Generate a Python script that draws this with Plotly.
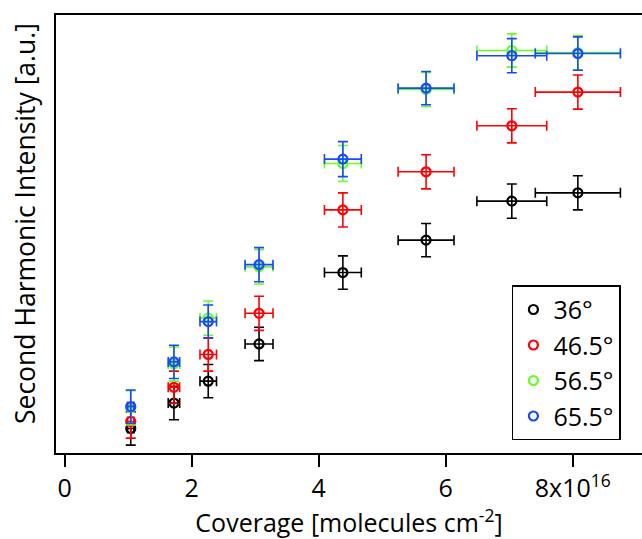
import plotly.graph_objects as go

coverage = [1.04, 1.72, 2.26, 3.06, 4.38, 5.69, 7.04, 8.08]
coverage_err = [0.05, 0.09, 0.13, 0.22, 0.29, 0.44, 0.55, 0.67]

labels = ["36°", "46.5°", "56.5°", "65.5°"]
colors = ["#000000", "#ff0000", "#66ff22", "#1a48ff"]

int_36 = [5.6, 11.4, 16.4, 24.9, 41.2, 48.6, 57.5, 59.4]
int_46 = [7.2, 15.0, 22.5, 31.9, 55.5, 64.2, 74.7, 82.4]
int_56 = [10.3, 20.3, 30.8, 42.5, 66.1, 83.0, 91.9, 91.4]
int_65 = [10.6, 20.8, 30.0, 43.0, 67.1, 83.3, 90.7, 91.2]
int_err_36 = [3.8, 3.8, 3.8, 3.8, 3.8, 3.8, 3.9, 3.9]
int_err_46 = [3.8, 3.7, 3.8, 3.9, 3.9, 3.9, 3.9, 3.9]
int_err_56 = [3.9, 3.9, 3.9, 3.9, 4.1, 3.9, 3.8, 3.9]
int_err_65 = [3.8, 3.8, 3.8, 3.9, 4.0, 3.8, 3.9, 3.8]

series = [int_36, int_46, int_56, int_65]
series_err = [int_err_36, int_err_46, int_err_56, int_err_65]

x_tickvals = [0, 2, 4, 6, 8]
x_ticktext = ["0", "2", "4", "6", "8x10<sup>16</sup>"]
y_title = "Second Harmonic Intensity [a.u.]"

fig = go.Figure()
for lab, col, ys, es in zip(labels, colors, series, series_err):
    fig.add_trace(go.Scatter(
        x=coverage, y=ys, mode="markers", name=lab,
        marker=dict(symbol="circle-open", size=9, color=col, line=dict(width=2.2, color=col)),
        error_x=dict(type="data", array=coverage_err, color=col, thickness=1.6, width=5),
        error_y=dict(type="data", array=es, color=col, thickness=1.6, width=5),
    ))

fig.add_annotation(
    text=y_title, xref="paper", yref="paper", x=-0.053, y=0.525,
    textangle=-90, showarrow=False, xanchor="center", yanchor="middle",
    font=dict(size=26.5, color="black", family="Open Sans"),
)

fig.update_layout(
    width=642, height=539,
    margin=dict(l=56, r=0, t=15, b=86),
    paper_bgcolor="white", plot_bgcolor="white",
    font=dict(family="Open Sans", color="black"),
    showlegend=True,
    legend=dict(
        x=0.778, y=0.383, xanchor="left", yanchor="top",
        bgcolor="white", bordercolor="black", borderwidth=1.5,
        font=dict(size=25, color="black"),
        itemsizing="trace",
    ),
    xaxis=dict(
        range=[-0.137, 9.09],
        tickvals=x_tickvals, ticktext=x_ticktext,
        ticks="outside", ticklen=12, tickwidth=2, tickcolor="black",
        showline=True, linewidth=2, linecolor="black", mirror=True,
        showgrid=False, zeroline=False,
        tickfont=dict(size=25),
        title=dict(text="Coverage [molecules cm<sup>-2</sup>]", font=dict(size=25), standoff=6),
    ),
    yaxis=dict(
        range=[0, 100],
        showticklabels=False, ticks="",
        showline=True, linewidth=2, linecolor="black", mirror=False,
        showgrid=False, zeroline=False,
    ),
)

fig.write_html("out.html")
